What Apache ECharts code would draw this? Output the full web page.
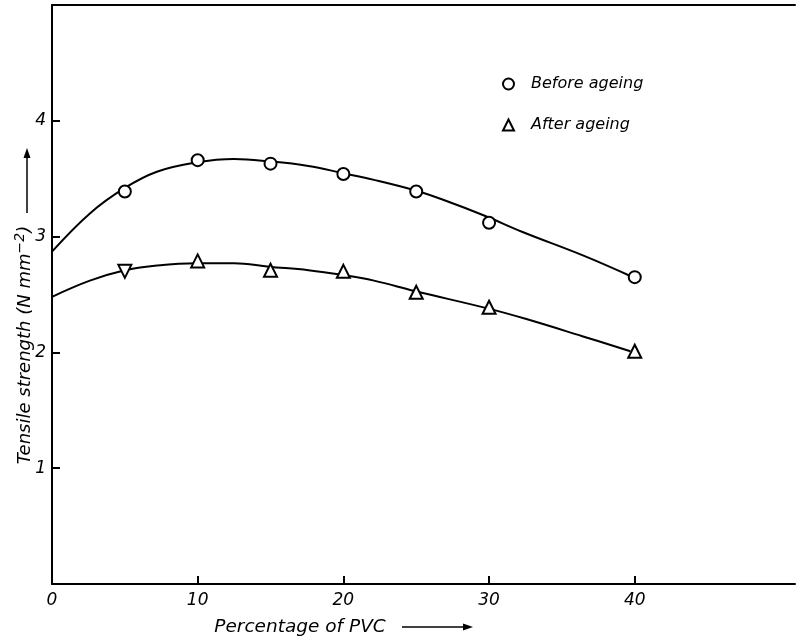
<!DOCTYPE html>
<html lang="en">
<head>
  <meta charset="UTF-8">
  <title>Tensile strength vs PVC</title>
  <script src="https://cdn.jsdelivr.net/npm/echarts@6/dist/echarts.min.js"></script>
  <style>
    html, body { margin: 0; padding: 0; background: #fff; }
    #chart { width: 798px; height: 636px; }
  </style>
</head>
<body>
  <div id="chart"></div>
</body>
</html>
<script type="text/javascript">
  // measured points
  const pvc = [5, 10, 15, 20, 25, 30, 40];
  const beforeAgeing = [3.39, 3.66, 3.63, 3.54, 3.39, 3.12, 2.65];
  const afterAgeing = [2.70, 2.79, 2.71, 2.70, 2.52, 2.39, 2.01];

  // fitted curves
  const beforeCurveX = [0, 2.6, 5, 7.2, 9.9, 12.5, 14.9, 17.6, 19.9, 22.1, 24.9, 26.8, 29.7, 32.3, 36.4, 39.7];
  const beforeCurveY = [2.87, 3.20, 3.42, 3.56, 3.64, 3.67, 3.65, 3.61, 3.55, 3.49, 3.40, 3.32, 3.18, 3.04, 2.84, 2.66];
  const afterCurveX = [0, 2.6, 5, 7.2, 9.9, 12.5, 14.9, 17.6, 19.9, 22.1, 24.9, 29.9, 32.5, 36.4, 39.7];
  const afterCurveY = [2.48, 2.62, 2.71, 2.75, 2.77, 2.77, 2.74, 2.71, 2.67, 2.62, 2.53, 2.38, 2.29, 2.14, 2.01];

  const xTicks = [0, 10, 20, 30, 40];
  const yTicks = [1, 2, 3, 4];

  const font = 'DejaVu Sans';
  const zip = (xs, ys) => xs.map((x, i) => [x, ys[i]]);

  let chart = echarts.init(document.getElementById('chart'));

  let option = {
    animation: false,
    backgroundColor: '#fff',
    grid: { left: 52, right: 3, top: 5, bottom: 52 },
    legend: {
      orient: 'vertical',
      left: 497,
      top: 71,
      itemWidth: 11,
      itemHeight: 11,
      itemGap: 25,
      data: ['Before ageing', 'After ageing'],
      textStyle: { fontFamily: font, fontStyle: 'italic', fontSize: 16, color: '#000', padding: [0, 0, 0, 12] }
    },
    xAxis: [{
      type: 'value',
      min: 0,
      max: 51,
      interval: 10,
      splitLine: { show: false },
      axisLine: { lineStyle: { color: '#000', width: 2 } },
      axisTick: { inside: true, length: 8, customValues: xTicks, lineStyle: { color: '#000', width: 2 } },
      axisLabel: { customValues: xTicks, margin: 8, fontFamily: font, fontStyle: 'italic', fontSize: 17, color: '#000' }
    }, {
      type: 'value',
      position: 'top',
      min: 0,
      max: 51,
      splitLine: { show: false },
      axisLine: { show: true, lineStyle: { color: '#000', width: 2 } },
      axisTick: { show: false },
      axisLabel: { show: false }
    }],
    yAxis: {
      type: 'value',
      min: 0,
      max: 5,
      interval: 1,
      splitLine: { show: false },
      axisLine: { show: true, lineStyle: { color: '#000', width: 2 } },
      axisTick: { inside: true, length: 8, customValues: yTicks, lineStyle: { color: '#000', width: 2 } },
      axisLabel: { customValues: yTicks, margin: 6, fontFamily: font, fontStyle: 'italic', fontSize: 17, color: '#000' }
    },
    series: [{
      name: 'before curve',
      type: 'line',
      smooth: 0.4,
      symbol: 'none',
      lineStyle: { color: '#000', width: 2 },
      data: zip(beforeCurveX, beforeCurveY),
      z: 2
    }, {
      name: 'after curve',
      type: 'line',
      smooth: 0.4,
      symbol: 'none',
      lineStyle: { color: '#000', width: 2 },
      data: zip(afterCurveX, afterCurveY),
      z: 2
    }, {
      name: 'Before ageing',
      type: 'scatter',
      symbol: 'circle',
      symbolSize: 12,
      itemStyle: { color: '#fff', borderColor: '#000', borderWidth: 2, opacity: 1 },
      data: zip(pvc, beforeAgeing),
      z: 3
    }, {
      name: 'After ageing',
      type: 'scatter',
      symbol: 'triangle',
      symbolSize: 13,
      itemStyle: { color: '#fff', borderColor: '#000', borderWidth: 2, opacity: 1 },
      data: zip(pvc, afterAgeing).map((p, i) => i === 0 ? { value: p, symbolRotate: 180 } : p),
      z: 3
    }],
    graphic: [{
      type: 'text',
      x: 25,
      y: 345,
      rotation: Math.PI / 2,
      style: {
        text: 'Tensile strength (N mm{sup|−2})',
        fontFamily: font,
        fontStyle: 'italic',
        fontSize: 18,
        fill: '#000',
        align: 'center',
        verticalAlign: 'middle',
        rich: {
          sup: { fontFamily: font, fontStyle: 'italic', fontSize: 14, verticalAlign: 'top', padding: [0, 0, 10, 0] }
        }
      }
    }, {
      type: 'line',
      shape: { x1: 27, y1: 213, x2: 27, y2: 156 },
      style: { stroke: '#000', lineWidth: 1.5 }
    }, {
      type: 'polygon',
      shape: { points: [[27, 148], [23.5, 158], [30.5, 158]] },
      style: { fill: '#000' }
    }, {
      type: 'text',
      x: 300,
      y: 627,
      style: {
        text: 'Percentage of PVC',
        fontFamily: font,
        fontStyle: 'italic',
        fontSize: 18.5,
        fill: '#000',
        align: 'center',
        verticalAlign: 'middle'
      }
    }, {
      type: 'line',
      shape: { x1: 402, y1: 627, x2: 464, y2: 627 },
      style: { stroke: '#000', lineWidth: 1.5 }
    }, {
      type: 'polygon',
      shape: { points: [[473, 627], [463, 623.5], [463, 630.5]] },
      style: { fill: '#000' }
    }]
  };

  chart.setOption(option);
</script>
